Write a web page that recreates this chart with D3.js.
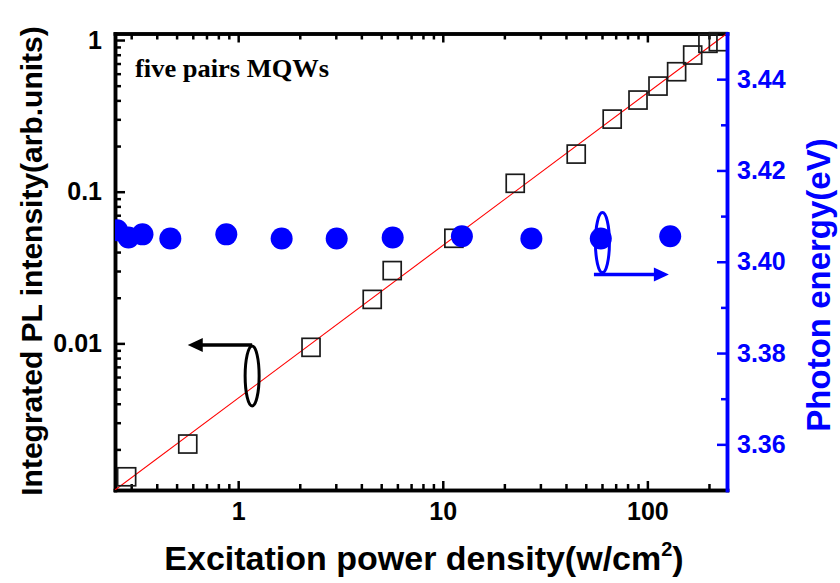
<!DOCTYPE html>
<html>
<head>
<meta charset="utf-8">
<script src="https://cdn.jsdelivr.net/npm/d3@7"></script>
<style>
  html, body { margin: 0; padding: 0; background: #fff; }
  svg { display: block; }
  text { font-family: "Liberation Sans", Arial, sans-serif; font-weight: bold; }
</style>
</head>
<body>
<svg id="chart" width="840" height="583"></svg>
<script>
// ---- data ----
const powerPL = [0.285, 0.567, 2.27, 4.52, 5.66, 11.33, 22.6, 44.9, 67.3, 90, 112.7, 139, 166.5, 197.7, 222.3];
const intensityPL = [0.00132, 0.00217, 0.00942, 0.0195, 0.0302, 0.0493, 0.1136, 0.177, 0.301, 0.402, 0.497, 0.618, 0.796, 0.951, 0.975];
const powerE = [0.256, 0.291, 0.3406, 0.466, 0.875, 1.631, 3.03, 5.69, 12.4, 27.1, 59.2, 129.3];
const energyE = [3.4069, 3.4053, 3.4060, 3.4051, 3.4060, 3.4051, 3.4051, 3.4053, 3.4056, 3.4051, 3.4051, 3.4056];
const fitPower = [0.25, 245];
const fitIntensity = [0.00108, 1.104];
const xMajorTicks = [1, 10, 100];
const xMinorTicks = [0.3,0.4,0.5,0.6,0.7,0.8,0.9, 2,3,4,5,6,7,8,9, 20,30,40,50,60,70,80,90, 200];
const yLeftMajorTicks = [0.01, 0.1, 1];
const yLeftMinorTicks = [0.002,0.003,0.004,0.005,0.006,0.007,0.008,0.009, 0.02,0.03,0.04,0.05,0.06,0.07,0.08,0.09, 0.2,0.3,0.4,0.5,0.6,0.7,0.8,0.9];
const yRightMajorTicks = [3.36, 3.38, 3.40, 3.42, 3.44];
const yRightMinorTicks = [3.37, 3.39, 3.41, 3.43];
const yLeftTickLabels = ["0.01", "0.1", "1"];
// annotations (data coordinates)
const leftArrow = {ellipseX: 1.17, ellipseY: 0.0061, fromX: 1.17, toX: 0.567, atY: 0.00976};
const rightArrow = {ellipseX: 60.3, ellipseY: 3.4042, fromX: 54.8, toX: 127.4, atY: 3.3972};

const svg = d3.select("#chart");
const L = 115, R = 727, T = 33.5, B = 490;
const x = d3.scaleLog().domain([0.25, 245]).range([L, R]);
const yL = d3.scaleLog().domain([0.00108, 1.104]).range([B, T]);
const yR = d3.scaleLinear().domain([3.35, 3.45]).range([B, T]);
const BLUE = "#0000ff";

svg.append("rect").attr("width", 840).attr("height", 583).attr("fill", "#fff");

svg.append("defs").append("clipPath").attr("id", "plotclip")
  .append("rect").attr("x", L).attr("y", T - 10).attr("width", R - L + 10).attr("height", B - T + 10);

// ---- axes ----
function styleAxis(g, color, width) {
  g.selectAll(".domain").attr("stroke", color).attr("stroke-width", width).attr("stroke-linecap", "square");
  g.selectAll(".tick line").attr("stroke", color).attr("stroke-width", 2.5);
  g.selectAll(".tick text").attr("fill", color);
}

// bottom
const gB = svg.append("g").attr("transform", `translate(0,${B})`);
gB.call(d3.axisBottom(x).tickValues(xMajorTicks).tickSize(-9).tickSizeOuter(0).tickPadding(12).tickFormat(d3.format("d")))
  .attr("font-size", 25).attr("font-family", null);
styleAxis(gB, "#000", 3.5);
const gBm = svg.append("g").attr("transform", `translate(0,${B})`);
gBm.call(d3.axisBottom(x).tickValues(xMinorTicks).tickSize(-6).tickSizeOuter(0).tickFormat(""));
styleAxis(gBm, "#000", 3.5);

// top
const gT = svg.append("g").attr("transform", `translate(0,${T})`);
gT.call(d3.axisTop(x).tickValues(xMajorTicks).tickSize(-9).tickSizeOuter(0).tickFormat(""));
styleAxis(gT, "#000", 3.5);
const gTm = svg.append("g").attr("transform", `translate(0,${T})`);
gTm.call(d3.axisTop(x).tickValues(xMinorTicks).tickSize(-6).tickSizeOuter(0).tickFormat(""));
styleAxis(gTm, "#000", 3.5);

// left
const gL = svg.append("g").attr("transform", `translate(${L},0)`);
gL.call(d3.axisLeft(yL).tickValues(yLeftMajorTicks).tickSize(-10).tickSizeOuter(0).tickPadding(13)
  .tickFormat((d, i) => yLeftTickLabels[i]))
  .attr("font-size", 25).attr("font-family", null);
styleAxis(gL, "#000", 3.5);
const gLm = svg.append("g").attr("transform", `translate(${L},0)`);
gLm.call(d3.axisLeft(yL).tickValues(yLeftMinorTicks).tickSize(-6).tickSizeOuter(0).tickFormat(""));
styleAxis(gLm, "#000", 3.5);

// ---- marks ----
const plot = svg.append("g").attr("clip-path", "url(#plotclip)");

// fit line
plot.append("path")
  .datum(fitPower.map((p, i) => [p, fitIntensity[i]]))
  .attr("d", d3.line().x(d => x(d[0])).y(d => yL(d[1])))
  .attr("stroke", "#ff0000").attr("stroke-width", 1.1).attr("fill", "none");

// squares
const S = 18;
plot.selectAll("rect.sq").data(powerPL.map((p, i) => [p, intensityPL[i]])).join("rect")
  .attr("class", "sq")
  .attr("x", d => x(d[0]) - S / 2).attr("y", d => yL(d[1]) - S / 2)
  .attr("width", S).attr("height", S)
  .attr("fill", "none").attr("stroke", "#1a1a1a").attr("stroke-width", 1.7);

// blue dots
plot.selectAll("circle.dot").data(powerE.map((p, i) => [p, energyE[i]])).join("circle")
  .attr("class", "dot")
  .attr("cx", d => x(d[0])).attr("cy", d => yR(d[1])).attr("r", 11)
  .attr("fill", BLUE);

// right axis (blue) drawn last
const gR = svg.append("g").attr("transform", `translate(${R},0)`);
gR.call(d3.axisRight(yR).tickValues(yRightMajorTicks).tickSize(-10).tickSizeOuter(0).tickPadding(10)
  .tickFormat(d3.format(".2f")))
  .attr("font-size", 25).attr("font-family", null);
styleAxis(gR, BLUE, 3.5);
const gRm = svg.append("g").attr("transform", `translate(${R},0)`);
gRm.call(d3.axisRight(yR).tickValues(yRightMinorTicks).tickSize(-6).tickSizeOuter(0).tickFormat(""));
styleAxis(gRm, BLUE, 3.5);

// ---- annotations ----
function arrow(g, x1, x2, y, color, dir) {
  const head = 15, half = 7;
  g.append("line").attr("x1", x1).attr("x2", x2 - dir * head + dir * 1).attr("y1", y).attr("y2", y)
    .attr("stroke", color).attr("stroke-width", 3.5);
  g.append("path").attr("d", `M${x2},${y} L${x2 - dir * head},${y - half} L${x2 - dir * head},${y + half} Z`)
    .attr("fill", color);
}
const ann = svg.append("g");
// black (left axis) annotation
ann.append("ellipse")
  .attr("cx", x(leftArrow.ellipseX)).attr("cy", yL(leftArrow.ellipseY)).attr("rx", 7).attr("ry", 30)
  .attr("fill", "none").attr("stroke", "#000").attr("stroke-width", 3);
arrow(ann, x(leftArrow.fromX), x(leftArrow.toX), yL(leftArrow.atY), "#000", -1);
// blue (right axis) annotation
ann.append("ellipse")
  .attr("cx", x(rightArrow.ellipseX)).attr("cy", yR(rightArrow.ellipseY)).attr("rx", 7).attr("ry", 30)
  .attr("fill", "none").attr("stroke", BLUE).attr("stroke-width", 3);
arrow(ann, x(rightArrow.fromX), x(rightArrow.toX), yR(rightArrow.atY), BLUE, 1);

// sample label
svg.append("text").attr("x", 135).attr("y", 77)
  .style("font-family", "'Liberation Serif', 'Times New Roman', serif")
  .attr("font-size", 25).attr("textLength", 194).attr("lengthAdjust", "spacingAndGlyphs")
  .text("five pairs MQWs");

// ---- axis titles ----
const xt = svg.append("text").attr("x", 424).attr("y", 570).attr("text-anchor", "middle")
  .attr("font-size", 34);
xt.append("tspan").text("Excitation power density(w/cm");
xt.append("tspan").attr("font-size", 20).attr("dy", -14).text("2");
xt.append("tspan").attr("dy", 14).text(")");

svg.append("text").attr("transform", "translate(42,261) rotate(-90)").attr("text-anchor", "middle")
  .attr("font-size", 30).text("Integrated PL intensity(arb.units)");

svg.append("text").attr("transform", "translate(830,285) rotate(-90)").attr("text-anchor", "middle")
  .attr("font-size", 33).attr("fill", BLUE).text("Photon energy(eV)");
</script>
</body>
</html>
